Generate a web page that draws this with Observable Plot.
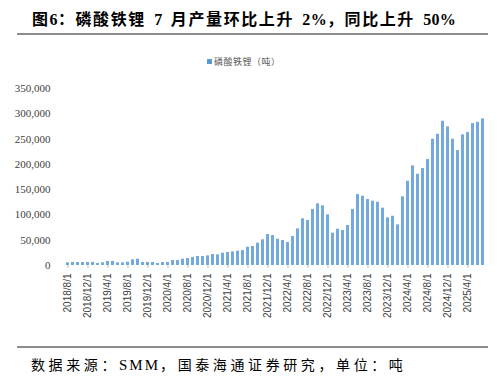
<!DOCTYPE html>
<html><head><meta charset="utf-8">
<script src="https://cdn.jsdelivr.net/npm/d3@7"></script>
<script src="https://cdn.jsdelivr.net/npm/@observablehq/plot@0.6"></script>
<style>
body{margin:0;background:#fff;width:503px;height:378px;position:relative;overflow:hidden;font-family:"Liberation Serif","Noto Sans CJK SC",serif;}
#title{position:absolute;left:32px;top:6px;font-size:16px;font-weight:bold;letter-spacing:1.6px;white-space:nowrap;color:#000;font-family:"Liberation Serif","Noto Sans CJK SC",serif;}
#title .l{letter-spacing:0.3px}
.rule{position:absolute;left:17px;width:471px;height:2px;background:#8c8c8c}
#legend{position:absolute;top:55px;left:207px;font-size:9px;color:#595959;font-family:"Noto Sans CJK SC",sans-serif;white-space:nowrap;letter-spacing:0.5px}
#legend span.sw{display:inline-block;width:5px;height:5px;background:#5b9bd5;margin-right:2px;vertical-align:1px}
#chart{position:absolute;left:0;top:80px}
#caption{position:absolute;left:31px;top:354px;font-size:14px;letter-spacing:3.6px;white-space:nowrap;color:#000}
#caption .l{letter-spacing:2px;font-size:15px}
</style>
</head>
<body>
<div id="title">图<span class="l">6</span>：磷酸铁锂<span class="l">&ensp;7&ensp;</span>月产量环比上升<span class="l">&ensp;2%</span>，同比上升<span class="l">&ensp;50%</span></div>
<div class="rule" style="top:33px"></div>
<div id="legend"><span class="sw"></span>磷酸铁锂（吨）</div>
<div id="chart"></div>
<div class="rule" style="top:346px"></div>
<div id="caption">数据来源：<span class="l">SMM</span>，国泰海通证券研究，单位：吨</div>
<script>
const months = [
"2018/8/1","2018/9/1","2018/10/1","2018/11/1","2018/12/1",
"2019/1/1","2019/2/1","2019/3/1","2019/4/1","2019/5/1","2019/6/1","2019/7/1","2019/8/1","2019/9/1","2019/10/1","2019/11/1","2019/12/1",
"2020/1/1","2020/2/1","2020/3/1","2020/4/1","2020/5/1","2020/6/1","2020/7/1","2020/8/1","2020/9/1","2020/10/1","2020/11/1","2020/12/1",
"2021/1/1","2021/2/1","2021/3/1","2021/4/1","2021/5/1","2021/6/1","2021/7/1","2021/8/1","2021/9/1","2021/10/1","2021/11/1","2021/12/1",
"2022/1/1","2022/2/1","2022/3/1","2022/4/1","2022/5/1","2022/6/1","2022/7/1","2022/8/1","2022/9/1","2022/10/1","2022/11/1","2022/12/1",
"2023/1/1","2023/2/1","2023/3/1","2023/4/1","2023/5/1","2023/6/1","2023/7/1","2023/8/1","2023/9/1","2023/10/1","2023/11/1","2023/12/1",
"2024/1/1","2024/2/1","2024/3/1","2024/4/1","2024/5/1","2024/6/1","2024/7/1","2024/8/1","2024/9/1","2024/10/1","2024/11/1","2024/12/1",
"2025/1/1","2025/2/1","2025/3/1","2025/4/1","2025/5/1","2025/6/1","2025/7/1"
];
const production = [
5300,6000,6000,6000,6000,
6000,4000,5300,7900,7900,5300,5300,6600,11200,12500,6000,6000,
6000,4000,6000,6000,9900,9900,12500,13800,15800,17800,17800,19100,
21700,21100,24400,25700,27000,28300,29600,36200,37500,44100,50800,61300,
59300,52000,49400,45500,57300,72500,92300,89000,110700,122000,118000,100200,
63900,71800,69200,79000,110700,140300,137000,130400,127100,125100,113300,94300,
97400,80400,135800,166600,197000,180400,191700,209500,249600,259500,285200,274100,
249600,227300,258300,262800,280600,283200,289900
];
const xTickLabels = ["2018/8/1","2018/12/1","2019/4/1","2019/8/1","2019/12/1","2020/4/1","2020/8/1","2020/12/1","2021/4/1","2021/8/1","2021/12/1","2022/4/1","2022/8/1","2022/12/1","2023/4/1","2023/8/1","2023/12/1","2024/4/1","2024/8/1","2024/12/1","2025/4/1"];
const yTicks = [0,50000,100000,150000,200000,250000,300000,350000];

const rows = months.map((m,i)=>({month:m, value:production[i]}));

const chart = Plot.plot({
  width:503, height:250,
  marginLeft:60, marginRight:13, marginTop:8, marginBottom:65,
  style:{background:"transparent"},
  x:{type:"band", domain:months, padding:0.5, label:null},
  y:{domain:[0,350000], label:null},
  marks:[
    Plot.barY(rows,{x:"month", y:"value", fill:"#74a9de"}),
    Plot.ruleY([0],{stroke:"#d9d9d9", x1:58, x2:490}),
    Plot.axisY({ticks:yTicks, tickSize:0, tickPadding:10, tickFormat:d3.format(","), fontSize:11, fontFamily:"Liberation Serif", fill:"#404040", label:null}),
    Plot.axisX({ticks:xTickLabels, tickRotate:-90, tickSize:3, tickPadding:5, stroke:"#bfbfbf", fontSize:10, fontFamily:"Liberation Sans", fill:"#404040", label:null})
  ]
});
document.getElementById("chart").appendChild(chart);
</script>
</body></html>
